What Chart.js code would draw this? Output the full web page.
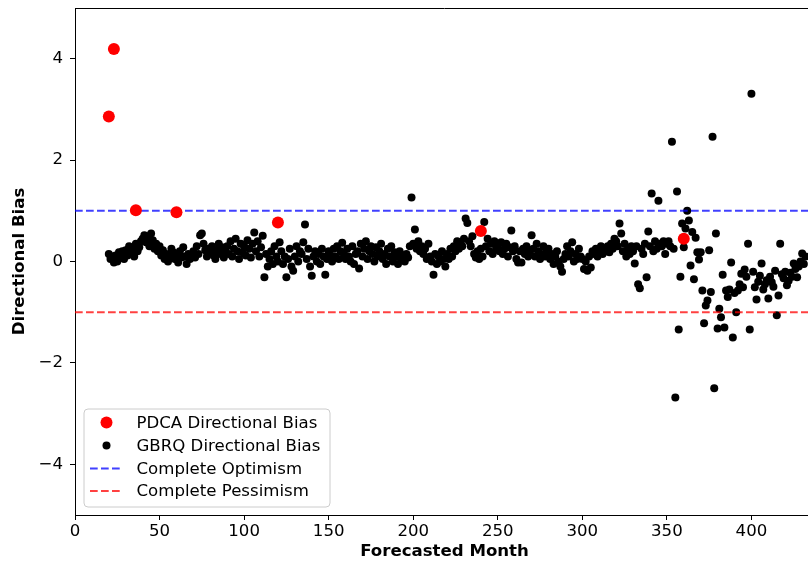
<!DOCTYPE html>
<html>
<head>
<meta charset="utf-8">
<script src="https://cdn.jsdelivr.net/npm/chart.js@4.4.1/dist/chart.umd.min.js"></script>
<style>
  html, body { margin: 0; padding: 0; background: #fff; overflow: hidden; }
  #wrap { width: 808px; height: 565px; overflow: hidden; }
</style>
</head>
<body>
<div id="wrap"><canvas id="myChart" width="820" height="565"></canvas></div>
<script>
// PDCA points (red)
const pdcaMonths = [20, 23, 36, 60, 120, 240, 360];
const pdcaBias = [2.86, 4.19, 1.01, 0.97, 0.77, 0.60, 0.45];

// GBRQ points (black), one per month starting at month 20
const gbrqFirstMonth = 20;
const gbrqBias = [
  0.15, 0.05, 0.10, -0.02, 0.12, 0.00, 0.18, 0.08, 0.20, 0.05,   // 20
  0.22, 0.12, 0.30, 0.18, 0.25, 0.10, 0.35, 0.20, 0.28, 0.40,    // 30
  0.45, 0.52, 0.38, 0.50, 0.30, 0.55, 0.42, 0.25, 0.35, 0.20,    // 40
  0.30, 0.12, 0.22, 0.05, 0.15, 0.00, 0.10, 0.25, 0.18, 0.05,    // 50
  0.12, -0.02, 0.20, 0.08, 0.28, 0.10, -0.05, 0.15, 0.05, 0.12,  // 60
  0.20, 0.08, 0.30, 0.15, 0.52, 0.55, 0.35, 0.22, 0.10, 0.25,    // 70
  0.18, 0.30, 0.12, 0.05, 0.22, 0.35, 0.15, 0.28, 0.08, 0.20,    // 80
  0.30, 0.15, 0.40, 0.10, 0.25, 0.45, 0.20, 0.05, 0.35, 0.18,    // 90
  0.30, 0.12, 0.42, 0.25, 0.08, 0.35, 0.57, 0.20, 0.40, 0.10,    // 100
  0.28, 0.51, -0.31, 0.15, -0.10, 0.05, 0.20, -0.05, 0.30, 0.10, // 110
  0.00, 0.38, 0.20, -0.05, 0.10, -0.31, 0.05, 0.25, -0.10, -0.18,// 120
  0.10, 0.30, 0.00, 0.20, 0.15, 0.38, 0.73, 0.05, 0.25, -0.10,   // 130
  -0.28, 0.10, 0.20, 0.00, 0.15, -0.05, 0.25, 0.10, -0.26, 0.05, // 140
  0.20, 0.12, 0.00, 0.25, 0.10, 0.30, 0.05, 0.20, 0.37, 0.15,    // 150
  0.05, 0.25, 0.10, 0.00, 0.30, -0.05, 0.15, 0.20, -0.14, 0.35,  // 160
  0.10, 0.25, 0.40, 0.05, 0.20, 0.30, 0.15, 0.00, 0.28, 0.10,    // 170
  0.20, 0.35, 0.05, 0.15, -0.05, 0.25, 0.10, 0.30, 0.00, 0.18,   // 180
  0.10, -0.05, 0.20, 0.05, 0.12, 0.00, 0.15, 0.08, 0.30, 1.26,   // 190
  0.35, 0.63, 0.25, 0.40, 0.20, 0.30, 0.15, 0.25, 0.05, 0.35,    // 200
  0.10, 0.00, -0.26, 0.15, -0.05, 0.10, 0.00, 0.20, 0.05, -0.10, // 210
  0.15, 0.05, 0.25, 0.10, 0.30, 0.20, 0.40, 0.25, 0.35, 0.30,    // 220
  0.45, 0.85, 0.76, 0.40, 0.30, 0.50, 0.15, 0.08, 0.20, 0.05,    // 230
  0.25, 0.10, 0.78, 0.30, 0.45, 0.20, 0.35, 0.15, 0.40, 0.25,    // 240
  0.30, 0.20, 0.38, 0.15, 0.25, 0.35, 0.10, 0.28, 0.61, 0.20,    // 250
  0.30, 0.05, -0.02, 0.20, -0.02, 0.25, 0.15, 0.30, 0.10, 0.20,  // 260
  0.52, 0.25, 0.10, 0.35, 0.20, 0.05, 0.15, 0.30, 0.10, 0.20,    // 270
  0.25, 0.05, 0.15, -0.05, 0.10, 0.20, 0.00, -0.10, -0.20, 0.05, // 280
  0.15, 0.30, 0.10, 0.20, 0.38, 0.00, 0.15, 0.05, 0.25, 0.10,    // 290
  0.05, -0.15, 0.00, -0.18, 0.10, -0.12, 0.20, 0.15, 0.25, 0.10, // 300
  0.20, 0.30, 0.15, 0.25, 0.20, 0.30, 0.18, 0.35, 0.25, 0.45,    // 310
  0.40, 0.30, 0.75, 0.55, 0.20, 0.35, 0.10, 0.25, 0.15, 0.30,    // 320
  0.20, -0.04, 0.30, -0.45, -0.53, 0.25, 0.15, 0.35, -0.31, 0.59,// 330
  0.30, 1.34, 0.20, 0.40, 0.25, 1.20, 0.35, 0.30, 0.40, 0.15,    // 340
  0.35, 0.40, 0.30, 2.36, 0.25, -2.68, 1.38, -1.34, -0.30, 0.75, // 350
  0.28, 0.65, 1.00, 0.81, -0.08, 0.58, -0.35, 0.47, 0.18, 0.04,  // 360
  0.18, -0.57, -1.22, -0.87, -0.77, 0.22, -0.60, 2.46, -2.50, 0.55,     // 370
  -1.32, -0.93, -1.10, -0.26, -1.30, -0.57, -0.70, -0.55, -0.02, -1.50, // 380
  -0.62, -1.00, -0.57, -0.45, -0.24, -0.51, -0.16, -0.30, 0.35, -1.34,  // 390
  3.31, -0.20, -0.51, -0.75, -0.40, -0.28, -0.04, -0.55, -0.45, -0.37,  // 400
  -0.73, -0.30, -0.41, -0.50, -0.18, -1.06, -0.67, 0.35, -0.25, -0.33,  // 410
  -0.20, -0.47, -0.38, -0.22, -0.30, -0.04, -0.15, -0.31, -0.10, 0.00,  // 420
  0.16, -0.05, 0.10                                                     // 430
];
const gbrqMonths = gbrqBias.map((v, i) => gbrqFirstMonth + i);

// reference levels
const optimismLevel = 1;
const pessimismLevel = -1;
const monthRange = [0, 437];

// tick labels
const xTicks = [0, 50, 100, 150, 200, 250, 300, 350, 400];
const yTicks = [-4, -2, 0, 2, 4];

const FONT = 'DejaVu Sans';
const FSIZE = 16.6;

function fmtTick(v) {
    return v < 0 ? '\u2212' + Math.abs(v) : String(v);
}

// top spine like matplotlib
const topSpine = {
    id: 'topSpine',
    afterDraw(chart) {
        const {ctx, chartArea} = chart;
        ctx.save();
        ctx.strokeStyle = '#000';
        ctx.lineWidth = 1;
        ctx.beginPath();
        ctx.moveTo(chartArea.left, Math.round(chartArea.top) + 0.5);
        ctx.lineTo(chartArea.right, Math.round(chartArea.top) + 0.5);
        ctx.stroke();
        ctx.restore();
    }
};

// legend in the lower left corner of the plot
const legendBox = {
    id: 'legendBox',
    afterDraw(chart) {
        const {ctx, chartArea} = chart;
        const left = chartArea.left + 9, top = chartArea.bottom - 106;
        const w = 246, h = 98, r = 4;
        ctx.save();
        ctx.beginPath();
        ctx.moveTo(left + r, top);
        ctx.arcTo(left + w, top, left + w, top + h, r);
        ctx.arcTo(left + w, top + h, left, top + h, r);
        ctx.arcTo(left, top + h, left, top, r);
        ctx.arcTo(left, top, left + w, top, r);
        ctx.closePath();
        ctx.fillStyle = 'rgba(255,255,255,0.8)';
        ctx.fill();
        ctx.strokeStyle = '#cccccc';
        ctx.lineWidth = 1;
        ctx.stroke();

        const rowY = [13.5, 36.5, 59.5, 82];
        ctx.font = FSIZE + 'px "' + FONT + '"';
        ctx.textBaseline = 'middle';
        ctx.textAlign = 'left';
        chart.data.datasets.forEach((ds, i) => {
            const y = top + rowY[i];
            const mx = left + 22.5;
            if (ds.showLine) {
                ctx.beginPath();
                ctx.setLineDash(ds.borderDash);
                ctx.strokeStyle = ds.borderColor;
                ctx.lineWidth = ds.borderWidth;
                ctx.moveTo(mx - 16.5, y);
                ctx.lineTo(mx + 16.5, y);
                ctx.stroke();
                ctx.setLineDash([]);
            } else {
                ctx.beginPath();
                ctx.fillStyle = ds.backgroundColor;
                ctx.arc(mx, y, ds.pointRadius, 0, Math.PI * 2);
                ctx.fill();
            }
            ctx.fillStyle = '#000';
            ctx.fillText(ds.label, left + 52.5, y + 1);
        });
        ctx.restore();
    }
};

function veBieuDo() {
    const ctx = document.getElementById('myChart').getContext('2d');
    new Chart(ctx, {
        type: 'scatter',
        data: {
            datasets: [{
                label: 'PDCA Directional Bias',
                data: pdcaMonths.map((m, i) => ({x: m, y: pdcaBias[i]})),
                backgroundColor: '#ff0000',
                borderWidth: 0,
                pointRadius: 6,
                order: 0
            }, {
                label: 'GBRQ Directional Bias',
                data: gbrqMonths.map((m, i) => ({x: m, y: gbrqBias[i]})),
                backgroundColor: '#000000',
                borderWidth: 0,
                pointRadius: 4,
                order: 3
            }, {
                label: 'Complete Optimism',
                data: monthRange.map(m => ({x: m, y: optimismLevel})),
                showLine: true,
                borderColor: 'rgba(0,0,255,0.75)',
                borderWidth: 2,
                borderDash: [7.7, 3.3],
                pointRadius: 0,
                order: 1
            }, {
                label: 'Complete Pessimism',
                data: monthRange.map(m => ({x: m, y: pessimismLevel})),
                showLine: true,
                borderColor: 'rgba(255,0,0,0.75)',
                borderWidth: 2,
                borderDash: [7.7, 3.3],
                pointRadius: 0,
                order: 2
            }]
        },
        options: {
            responsive: false,
            animation: false,
            layout: { padding: { top: 8, left: 0, right: 0, bottom: 0 } },
            plugins: {
                legend: { display: false },
                tooltip: { enabled: false }
            },
            scales: {
                x: {
                    type: 'linear',
                    min: monthRange[0],
                    max: monthRange[1],
                    afterFit: s => { s.height = 50; s.paddingLeft = 0; s.paddingRight = 0; },
                    afterBuildTicks: s => { s.ticks = xTicks.map(v => ({value: v})); },
                    border: { display: true, color: '#000', width: 1 },
                    grid: { display: true, drawOnChartArea: false, drawTicks: true, tickLength: 5, color: '#000' },
                    ticks: {
                        color: '#000',
                        padding: 2,
                        maxRotation: 0,
                        font: { family: FONT, size: FSIZE },
                        callback: v => fmtTick(v)
                    },
                    title: {
                        display: true,
                        text: 'Forecasted Month',
                        color: '#000',
                        padding: { top: 0, bottom: 3 },
                        font: { family: FONT, size: FSIZE, weight: 'bold' }
                    }
                },
                y: {
                    min: -5,
                    max: 5,
                    afterFit: s => { s.width = 75; s.paddingTop = 0; s.paddingBottom = 0; },
                    afterBuildTicks: s => { s.ticks = yTicks.map(v => ({value: v})); },
                    border: { display: true, color: '#000', width: 1 },
                    grid: { display: true, drawOnChartArea: false, drawTicks: true, tickLength: 5, color: '#000' },
                    ticks: {
                        color: '#000',
                        padding: 7,
                        font: { family: FONT, size: FSIZE },
                        callback: v => fmtTick(v)
                    },
                    title: {
                        display: true,
                        text: 'Directional Bias',
                        color: '#000',
                        padding: { top: 10, bottom: 0 },
                        font: { family: FONT, size: FSIZE, weight: 'bold' }
                    }
                }
            }
        },
        plugins: [topSpine, legendBox]
    });
}

veBieuDo();
</script>
</body>
</html>
